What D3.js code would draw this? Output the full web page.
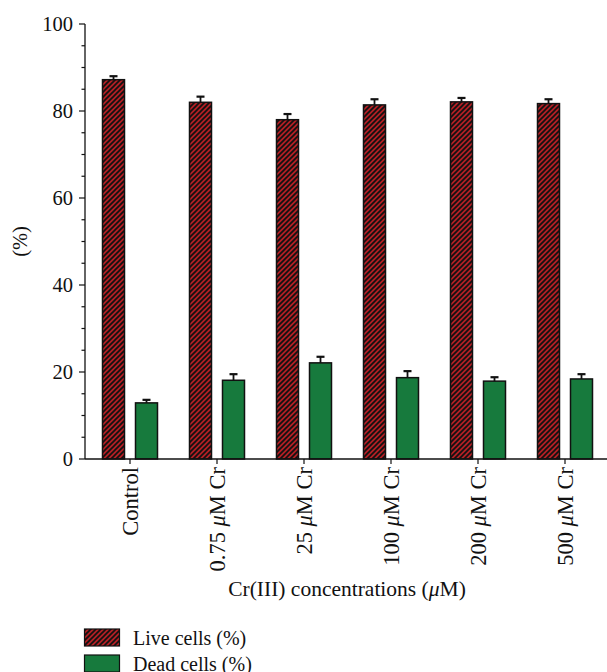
<!DOCTYPE html>
<html>
<head>
<meta charset="utf-8">
<script src="https://cdn.jsdelivr.net/npm/d3@7"></script>
<style>
  html, body { margin: 0; padding: 0; background: #fff; }
  svg { display: block; }
  text { font-family: "Liberation Serif", "DejaVu Serif", serif; fill: #111; }
</style>
</head>
<body>
<div id="chart"></div>
<script>
// Cell viability after Cr(III) exposure
const categories = ["Control", "0.75 μM Cr", "25 μM Cr", "100 μM Cr", "200 μM Cr", "500 μM Cr"];
const liveValues = [87.2, 82.0, 78.0, 81.4, 82.1, 81.7];
const liveErrors = [0.8, 1.3, 1.3, 1.3, 0.9, 1.0];
const deadValues = [12.9, 18.1, 22.1, 18.7, 17.9, 18.4];
const deadErrors = [0.7, 1.4, 1.4, 1.5, 0.9, 1.1];
const seriesNames = ["Live cells (%)", "Dead cells (%)"];
const yMajorTicks = [0, 20, 40, 60, 80, 100];
const yMinorTicks = [5, 10, 15, 25, 30, 35, 45, 50, 55, 65, 70, 75, 85, 90, 95];

const W = 607, H = 672;
const axisX = 85, axisY = 459;

const svg = d3.select("#chart").append("svg")
  .attr("width", W).attr("height", H);

const defs = svg.append("defs");
const hatch = defs.append("pattern")
  .attr("id", "hatch")
  .attr("patternUnits", "userSpaceOnUse")
  .attr("width", 5).attr("height", 5);
hatch.append("rect").attr("width", 5).attr("height", 5).attr("fill", "#b21f24");
hatch.append("path")
  .attr("d", "M0,5 L5,0 M-1,1 L1,-1 M4,6 L6,4")
  .attr("stroke", "#111").attr("stroke-width", 1.7);

const liveFill = "url(#hatch)";
const deadFill = "#177a3d";

const x = d3.scaleBand().domain(categories).range([86.5, 608.5]).padding(0);
const y = d3.scaleLinear().domain([0, 100]).range([axisY, 24]);

const barW = 22, gap = 5.5;

// bars
const groups = svg.append("g").selectAll("g")
  .data(categories.map((c, i) => ({ c, i })))
  .join("g")
  .attr("transform", d => `translate(${x(d.c) + x.bandwidth() / 2},0)`);

function drawSeries(values, errors, offset, fill) {
  groups.append("rect")
    .attr("x", offset)
    .attr("y", d => y(values[d.i]))
    .attr("width", barW)
    .attr("height", d => y(0) - y(values[d.i]))
    .attr("fill", fill)
    .attr("stroke", "#111")
    .attr("stroke-width", 1.5);
  // upper error bar
  groups.append("line")
    .attr("x1", offset + barW / 2).attr("x2", offset + barW / 2)
    .attr("y1", d => y(values[d.i]))
    .attr("y2", d => y(values[d.i] + errors[d.i]))
    .attr("stroke", "#111").attr("stroke-width", 1.8);
  groups.append("line")
    .attr("x1", offset + barW / 2 - 4).attr("x2", offset + barW / 2 + 4)
    .attr("y1", d => y(values[d.i] + errors[d.i]))
    .attr("y2", d => y(values[d.i] + errors[d.i]))
    .attr("stroke", "#111").attr("stroke-width", 2.2);
}
drawSeries(liveValues, liveErrors, -gap - barW, liveFill);
drawSeries(deadValues, deadErrors, gap, deadFill);

// y axis
const yAxis = svg.append("g");
yAxis.append("line")
  .attr("x1", axisX).attr("x2", axisX)
  .attr("y1", y(0)).attr("y2", y(100))
  .attr("stroke", "#111").attr("stroke-width", 1.3);
yAxis.selectAll(".maj").data(yMajorTicks).join("line")
  .attr("x1", axisX - 6).attr("x2", axisX)
  .attr("y1", d => y(d)).attr("y2", d => y(d))
  .attr("stroke", "#111").attr("stroke-width", 1.2);
yAxis.selectAll(".min").data(yMinorTicks).join("line")
  .attr("x1", axisX - 3.5).attr("x2", axisX)
  .attr("y1", d => y(d)).attr("y2", d => y(d))
  .attr("stroke", "#111").attr("stroke-width", 1.2);
yAxis.selectAll("text").data(yMajorTicks).join("text")
  .attr("x", axisX - 12).attr("y", d => y(d))
  .attr("dy", "0.35em")
  .attr("text-anchor", "end")
  .attr("font-size", 20.5)
  .text(d => d);

svg.append("text")
  .attr("transform", `translate(20,${(y(0) + y(100)) / 2}) rotate(-90)`)
  .attr("dy", "0.35em")
  .attr("text-anchor", "middle")
  .attr("font-size", 20.5)
  .text("(%)");

// x axis
const xAxis = svg.append("g");
xAxis.append("line")
  .attr("x1", axisX).attr("x2", W)
  .attr("y1", axisY).attr("y2", axisY)
  .attr("stroke", "#111").attr("stroke-width", 1.3);
xAxis.selectAll(".tk").data(categories).join("line")
  .attr("x1", d => x(d) + x.bandwidth() / 2).attr("x2", d => x(d) + x.bandwidth() / 2)
  .attr("y1", axisY).attr("y2", axisY + 5)
  .attr("stroke", "#111").attr("stroke-width", 1.2);

const labels = xAxis.selectAll(".lbl").data(categories).join("text")
  .attr("transform", d => `translate(${x(d) + x.bandwidth() / 2},${axisY + 8}) rotate(-90)`)
  .attr("dy", "0.35em")
  .attr("text-anchor", "end")
  .attr("font-size", 22.5);
labels.each(function (d) {
  const t = d3.select(this);
  const parts = d.split("μ");
  t.append("tspan").text(parts[0]);
  if (parts.length > 1) {
    t.append("tspan").attr("font-style", "italic").text("μ");
    t.append("tspan").text(parts[1]);
  }
});

const title = svg.append("text")
  .attr("x", 347).attr("y", 596)
  .attr("text-anchor", "middle")
  .attr("font-size", 21.5);
title.append("tspan").text("Cr(III) concentrations (");
title.append("tspan").attr("font-style", "italic").text("μ");
title.append("tspan").text("M)");

// legend
const legend = svg.append("g");
const legendRows = [
  { name: seriesNames[0], fill: liveFill, y: 629 },
  { name: seriesNames[1], fill: deadFill, y: 655 }
];
legend.selectAll("rect").data(legendRows).join("rect")
  .attr("x", 84.5).attr("y", d => d.y)
  .attr("width", 35).attr("height", 17)
  .attr("fill", d => d.fill)
  .attr("stroke", "#111").attr("stroke-width", 1.2);
legend.selectAll("text").data(legendRows).join("text")
  .attr("x", 133).attr("y", d => d.y + 9)
  .attr("dy", "0.35em")
  .attr("font-size", 20)
  .text(d => d.name);
</script>
</body>
</html>
